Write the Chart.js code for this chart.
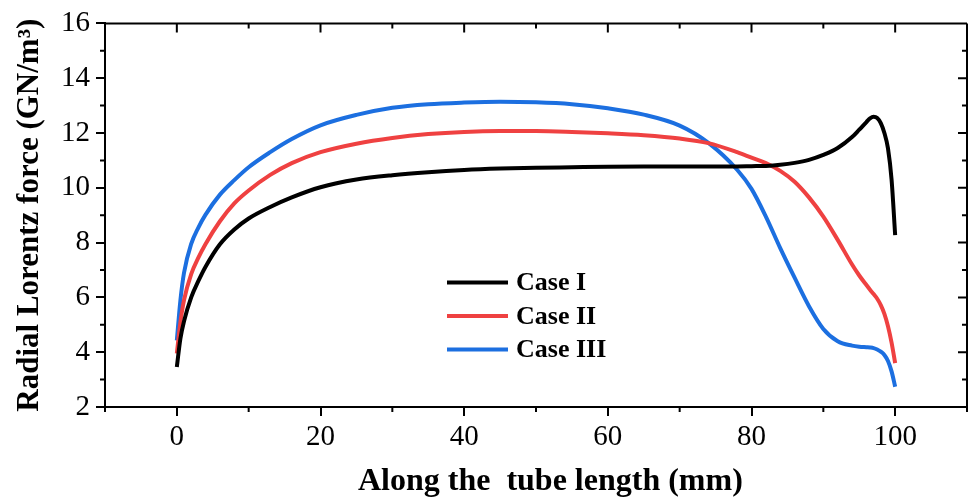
<!DOCTYPE html>
<html>
<head>
<meta charset="utf-8">
<script src="https://cdn.jsdelivr.net/npm/chart.js@4"></script>
<style>
  html, body { margin: 0; padding: 0; background: #fff; }
  #wrap { width: 971px; height: 497px; position: relative; }
</style>
</head>
<body>
<div id="wrap"><canvas id="chart"></canvas></div>
<script>
// Positions along the tube (mm)
const xValues = [0, 0.5, 1, 2, 3, 4, 6, 8, 10, 13, 16, 20, 25, 30, 35, 40, 45, 50, 55, 60,
  65, 70, 74, 78, 80, 82, 84, 86, 88, 90, 92, 94, 95, 96, 96.5, 97, 97.5, 98, 98.5, 99, 99.5, 100]

// Radial Lorentz force (GN/m3) per case
const caseI = [3.46, 4.5, 5.13, 6.0, 6.6, 7.12, 7.94, 8.48, 8.88, 9.3, 9.65, 10.02, 10.3, 10.46, 10.57, 10.65, 10.7, 10.73, 10.75, 10.77,
  10.78, 10.78, 10.78, 10.78, 10.79, 10.8, 10.84, 10.91, 11.02, 11.2, 11.45, 11.85, 12.12, 12.4, 12.53, 12.59, 12.55, 12.36, 12.0, 11.44, 10.3, 8.27]
const caseII = [3.95, 5.1, 5.9, 6.85, 7.45, 7.95, 8.78, 9.43, 9.9, 10.47, 10.9, 11.3, 11.61, 11.82, 11.96, 12.04, 12.07, 12.07, 12.04, 11.99,
  11.92, 11.8, 11.63, 11.3, 11.1, 10.9, 10.62, 10.22, 9.65, 8.95, 8.1, 7.2, 6.8, 6.45, 6.28, 6.12, 5.95, 5.72, 5.4, 4.95, 4.35, 3.6]
const caseIII = [4.43, 5.9, 6.9, 7.95, 8.55, 9.02, 9.75, 10.28, 10.75, 11.3, 11.78, 12.28, 12.66, 12.92, 13.05, 13.11, 13.14, 13.12, 13.05, 12.9,
  12.67, 12.27, 11.64, 10.66, 9.96, 8.95, 7.8, 6.72, 5.68, 4.85, 4.4, 4.24, 4.2, 4.18, 4.17, 4.15, 4.1, 4.02, 3.9, 3.68, 3.3, 2.74]

const seriesNames = ['Case I', 'Case II', 'Case III']
const seriesColors = ['#000000', '#ef4141', '#1c6fe0']

const xTicks = [0, 20, 40, 60, 80, 100]
const xMinor = [-10, 10, 30, 50, 70, 90, 110]
const yTicks = [2, 4, 6, 8, 10, 12, 14, 16]
const yMinor = [3, 5, 7, 9, 11, 13, 15]

const xTitle = 'Along the  tube length (mm)'
const yTitle = 'Radial Lorentz force (GN/m³)'

const serif = '"Liberation Serif", "Times New Roman", serif'

const toPoints = ys => xValues.map((x, i) => ({ x: x, y: ys[i] }))

// frame, minor ticks and inward ticks on top/right
const framePlugin = {
  id: 'frame',
  afterDraw(chart) {
    const { ctx, chartArea: a, scales: { x, y } } = chart
    ctx.save()
    ctx.strokeStyle = '#000'
    ctx.lineWidth = 2
    ctx.beginPath()
    ctx.moveTo(a.left, a.top); ctx.lineTo(a.right, a.top)
    ctx.moveTo(a.right, a.top); ctx.lineTo(a.right, a.bottom)
    // bottom / left minor ticks, outward
    xMinor.forEach(v => { const p = x.getPixelForValue(v); ctx.moveTo(p, a.bottom); ctx.lineTo(p, a.bottom + 5) })
    yMinor.forEach(v => { const p = y.getPixelForValue(v); ctx.moveTo(a.left, p); ctx.lineTo(a.left - 5, p) })
    // top / right ticks, inward
    xTicks.forEach(v => { const p = x.getPixelForValue(v); ctx.moveTo(p, a.top); ctx.lineTo(p, a.top + 9) })
    xMinor.forEach(v => { const p = x.getPixelForValue(v); ctx.moveTo(p, a.top); ctx.lineTo(p, a.top + 5) })
    yTicks.forEach(v => { const p = y.getPixelForValue(v); ctx.moveTo(a.right, p); ctx.lineTo(a.right - 9, p) })
    yMinor.forEach(v => { const p = y.getPixelForValue(v); ctx.moveTo(a.right, p); ctx.lineTo(a.right - 5, p) })
    ctx.stroke()

    // x axis title, centred a bit right of the plot centre
    ctx.font = 'bold 32px ' + serif
    ctx.fillStyle = '#000'
    ctx.textAlign = 'center'
    ctx.textBaseline = 'alphabetic'
    ctx.fillText(xTitle, x.getPixelForValue(52), 490)
    ctx.restore()
  }
}

// legend inside the plot
const legendPlugin = {
  id: 'insideLegend',
  afterDraw(chart) {
    const { ctx, chartArea: a } = chart
    const x0 = a.left + 342, y0 = a.top + 259, gap = 33.5
    ctx.save()
    ctx.font = 'bold 26px ' + serif
    ctx.textBaseline = 'middle'
    ctx.fillStyle = '#000'
    seriesNames.forEach((name, i) => {
      const yy = y0 + i * gap
      ctx.strokeStyle = seriesColors[i]
      ctx.lineWidth = 4
      ctx.beginPath()
      ctx.moveTo(x0, yy); ctx.lineTo(x0 + 61, yy)
      ctx.stroke()
      ctx.fillText(name, x0 + 69, yy + 1)
    })
    ctx.restore()
  }
}

const tickFont = { family: serif, size: 29 }
const titleFont = { family: serif, size: 31, weight: 'bold', lineHeight: 1 }

new Chart(document.getElementById('chart'), {
  type: 'line',
  data: {
    datasets: [caseI, caseII, caseIII].map((ys, i) => ({
      label: seriesNames[i],
      data: toPoints(ys),
      borderColor: seriesColors[i],
      backgroundColor: seriesColors[i],
      borderWidth: 4,
      pointRadius: 0,
      cubicInterpolationMode: 'monotone',
      fill: false
    }))
  },
  options: {
    responsive: true,
    maintainAspectRatio: false,
    animation: false,
    layout: { padding: { top: 21, right: 4, left: 0, bottom: 0 } },
    plugins: { legend: { display: false }, tooltip: { enabled: false } },
    scales: {
      x: {
        type: 'linear',
        min: -10,
        max: 110,
        afterBuildTicks: s => { s.ticks = xTicks.map(v => ({ value: v })) },
        afterFit: s => { s.height = 90 },
        grid: { display: true, drawOnChartArea: false, drawTicks: true, tickLength: 9, color: '#000', lineWidth: 2 },
        border: { display: true, color: '#000', width: 2 },
        ticks: { color: '#000', font: tickFont, padding: 4, maxRotation: 0 },
        title: { display: false }
      },
      y: {
        type: 'linear',
        min: 2,
        max: 16,
        afterBuildTicks: s => { s.ticks = yTicks.map(v => ({ value: v })) },
        afterFit: s => { s.width = 105 },
        grid: { display: true, drawOnChartArea: false, drawTicks: true, tickLength: 9, color: '#000', lineWidth: 2 },
        border: { display: true, color: '#000', width: 2 },
        ticks: { color: '#000', font: tickFont, padding: 6 },
        title: { display: true, text: yTitle, color: '#000', font: titleFont, padding: { top: 14, bottom: 0 } }
      }
    }
  },
  plugins: [framePlugin, legendPlugin]
})
</script>
</body>
</html>
